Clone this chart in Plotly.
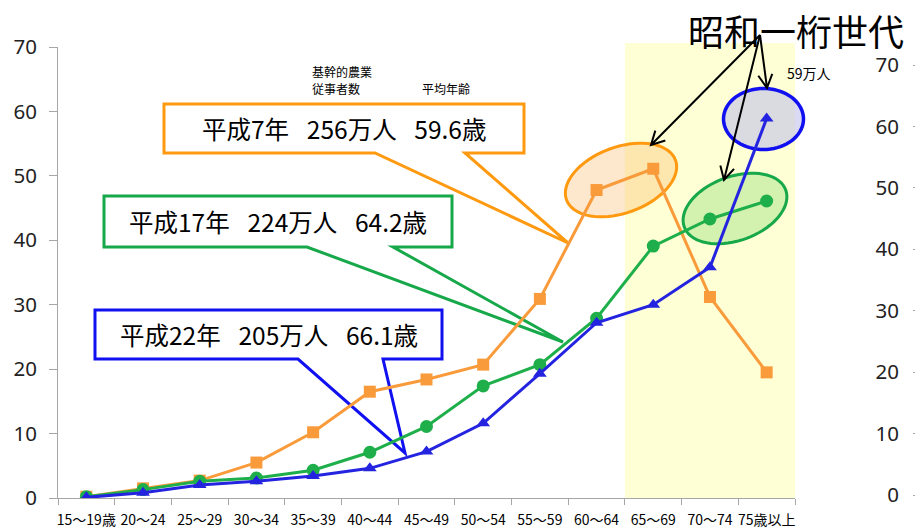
import math
import plotly.graph_objects as go

# ---------------- data ----------------
categories = ["15～19歳", "20～24", "25～29", "30～34", "35～39", "40～44", "45～49",
              "50～54", "55～59", "60～64", "65～69", "70～74", "75歳以上"]
h7 = [0.2, 1.5, 2.7, 5.5, 10.2, 16.5, 18.4, 20.7, 30.9, 47.8, 51.1, 31.2, 19.5]
h17 = [0.2, 1.3, 2.6, 3.1, 4.3, 7.1, 11.1, 17.4, 20.7, 27.9, 39.1, 43.3, 46.1]
h22 = [0.1, 0.8, 2.0, 2.6, 3.4, 4.6, 7.2, 11.6, 19.3, 27.2, 30.0, 35.8, 58.9]
yticks = [0, 10, 20, 30, 40, 50, 60, 70]

SP = "\u2002\u00a0"
box_texts = ["平成7年" + SP + "256万人" + SP + "59.6歳",
             "平成17年" + SP + "224万人" + SP + "64.2歳",
             "平成22年" + SP + "205万人" + SP + "66.1歳"]

# ---------------- layout geometry ----------------
# the page body adds an 8px margin, so the figure is 8px smaller than the window
OFF = 8
W, H = 923 - OFF, 530 - OFF
X0, X1, Y0, Y1 = 58, 921, 47, 498          # plot area in window pixels
ML, MR, MT, MB = X0 - OFF, W - (X1 - OFF), Y0 - OFF, H - (Y1 - OFF)
PW, PH = X1 - X0, Y1 - Y0


def px(x):
    return (x - X0) / PW


def py(y):
    return (Y1 - y) / PH


ORANGE = "#F99B3A"
GREEN = "#1EAF4B"
BLUE = "#2424E0"
OR_BOX = "#FF9A10"
GR_BOX = "#17A84A"
BL_BOX = "#1010F0"
AXC = "#A6A6A6"
FONT = "Noto Sans CJK JP"

fig = go.Figure()
fig.add_trace(go.Scatter(x=categories, y=h7, mode="lines+markers",
                         line=dict(color=ORANGE, width=3),
                         marker=dict(symbol="square", size=12, color=ORANGE),
                         showlegend=False, hoverinfo="skip"))
fig.add_trace(go.Scatter(x=categories, y=h17, mode="lines+markers",
                         line=dict(color=GREEN, width=3),
                         marker=dict(symbol="circle", size=13, color=GREEN),
                         showlegend=False, hoverinfo="skip"))
fig.add_trace(go.Scatter(x=categories, y=h22, mode="lines+markers",
                         line=dict(color=BLUE, width=3),
                         marker=dict(symbol="triangle-up", size=12, color=BLUE),
                         showlegend=False, hoverinfo="skip"))
# dummy trace for the cut-off right-hand axis of the neighbouring chart
fig.add_trace(go.Scatter(x=[None], y=[None], xaxis="x2", yaxis="y2",
                         showlegend=False, hoverinfo="skip"))

shapes = []
# highlighted age band 65+
shapes.append(dict(type="rect", xref="x", yref="paper", x0=9.5, x1=12.5,
                   y0=0, y1=py(43), fillcolor="rgb(255,255,213)",
                   line=dict(width=0), layer="below"))


def ellipse_path(cx, cy, a, b, ang_deg, n=72):
    t = math.radians(ang_deg)
    pts = []
    for i in range(n):
        u = 2 * math.pi * i / n
        ex, ey = a * math.cos(u), b * math.sin(u)
        x = cx + ex * math.cos(t) + ey * math.sin(t)
        y = cy - ex * math.sin(t) + ey * math.cos(t)
        pts.append((px(x), py(y)))
    return "M " + " L ".join(f"{x:.5f},{y:.5f}" for x, y in pts) + " Z"


shapes.append(dict(type="path", xref="paper", yref="paper", layer="below",
                   path=ellipse_path(621, 180, 58, 33, 20),
                   fillcolor="rgba(250,175,90,0.30)",
                   line=dict(color=OR_BOX, width=3)))
shapes.append(dict(type="path", xref="paper", yref="paper", layer="below",
                   path=ellipse_path(735, 208.5, 54, 32, 20),
                   fillcolor="rgba(110,210,90,0.30)",
                   line=dict(color=GR_BOX, width=3)))
shapes.append(dict(type="path", xref="paper", yref="paper", layer="below",
                   path=ellipse_path(763.5, 119, 40, 30.5, 0),
                   fillcolor="rgba(185,185,236,0.53)",
                   line=dict(color=BL_BOX, width=3.5)))


def callout(x0, y0, x1, y1, b1, b2, tx, ty):
    pts = [(x0, y0), (x1, y0), (x1, y1), (b2, y1), (tx, ty), (b1, y1), (x0, y1)]
    return "M " + " L ".join(f"{px(x):.5f},{py(y):.5f}" for x, y in pts) + " Z"


boxes = [
    (164, 104, 524, 153, 375, 465, 568, 243, OR_BOX),
    (104, 196, 452, 247, 307, 393, 563, 342, GR_BOX),
    (95, 310, 442, 359, 298, 383, 405, 453, BL_BOX),
]
annotations = []
for (x0, y0, x1, y1, b1, b2, tx, ty, col), txt in zip(boxes, box_texts):
    shapes.append(dict(type="path", xref="paper", yref="paper", layer="below",
                       path=callout(x0, y0, x1, y1, b1, b2, tx, ty),
                       fillcolor="white", line=dict(color=col, width=3)))
    annotations.append(dict(xref="paper", yref="paper", x=px((x0 + x1) / 2),
                            y=py((y0 + y1) / 2), text=txt, showarrow=False,
                            xanchor="center", yanchor="middle",
                            font=dict(family=FONT, size=24.5, color="black")))

# arrows from the 昭和一桁世代 label
ox, oy = 760, 35
for tx, ty in [(651, 145), (724, 180), (767, 88)]:
    ang = math.atan2(ty - oy, tx - ox)
    hl, ha = 15, math.radians(28)
    h1 = (tx - hl * math.cos(ang - ha), ty - hl * math.sin(ang - ha))
    h2 = (tx - hl * math.cos(ang + ha), ty - hl * math.sin(ang + ha))
    p = (f"M {px(ox):.5f},{py(oy):.5f} L {px(tx):.5f},{py(ty):.5f} "
         f"M {px(h1[0]):.5f},{py(h1[1]):.5f} L {px(tx):.5f},{py(ty):.5f} "
         f"L {px(h2[0]):.5f},{py(h2[1]):.5f}")
    shapes.append(dict(type="path", xref="paper", yref="paper", path=p,
                       line=dict(color="black", width=2)))

annotations += [
    dict(xref="paper", yref="paper", x=px(796), y=py(30), text="昭和一桁世代",
         showarrow=False, xanchor="center", yanchor="middle",
         font=dict(family=FONT, size=36, color="black")),
    dict(xref="paper", yref="paper", x=px(785), y=py(73), text="59万人",
         showarrow=False, xanchor="left", yanchor="middle",
         font=dict(family=FONT, size=14, color="black")),
    dict(xref="paper", yref="paper", x=px(310), y=py(71),
         text="基幹的農業", showarrow=False, xanchor="left",
         yanchor="middle", font=dict(family=FONT, size=12, color="black")),
    dict(xref="paper", yref="paper", x=px(310), y=py(88),
         text="従事者数", showarrow=False, xanchor="left",
         yanchor="middle", font=dict(family=FONT, size=12, color="black")),
    dict(xref="paper", yref="paper", x=px(420), y=py(88), text="平均年齢",
         showarrow=False, xanchor="left", yanchor="middle",
         font=dict(family=FONT, size=12, color="black")),
]

fig.update_layout(
    width=W, height=H,
    margin=dict(l=ML, r=MR, t=MT, b=MB, pad=0, autoexpand=False),
    paper_bgcolor="white", plot_bgcolor="white",
    shapes=shapes, annotations=annotations,
    xaxis=dict(type="category", domain=[0, px(795)], range=[-0.5, 12.5],
               showline=True, linecolor=AXC, linewidth=1, automargin=False,
               ticks="outside", tickson="boundaries", ticklen=6, tickcolor=AXC,
               showgrid=False, zeroline=False, tickangle=0,
               ticklabelstandoff=9,
               tickfont=dict(family=FONT, size=14, color="black")),
    yaxis=dict(range=[0, 70], tickvals=yticks, showline=True, linecolor=AXC,
               linewidth=1, ticks="outside", ticklen=8, tickcolor=AXC,
               showgrid=False, zeroline=False, automargin=False,
               ticklabelstandoff=8,
               tickfont=dict(family="Noto Sans", size=20.5, color="#222")),
    xaxis2=dict(domain=[0.95, 1], anchor="y2", visible=False),
    yaxis2=dict(domain=[py(495), py(65)], range=[0, 70], tickvals=yticks,
                anchor="free", position=1.0, side="left", automargin=False,
                showline=True, linecolor=AXC, linewidth=1, ticks="outside",
                ticklen=8, tickcolor=AXC, showgrid=False, zeroline=False,
                ticklabelstandoff=10,
                tickfont=dict(family="Noto Sans", size=20.5, color="#222")),
)

fig.write_html("out.html")
